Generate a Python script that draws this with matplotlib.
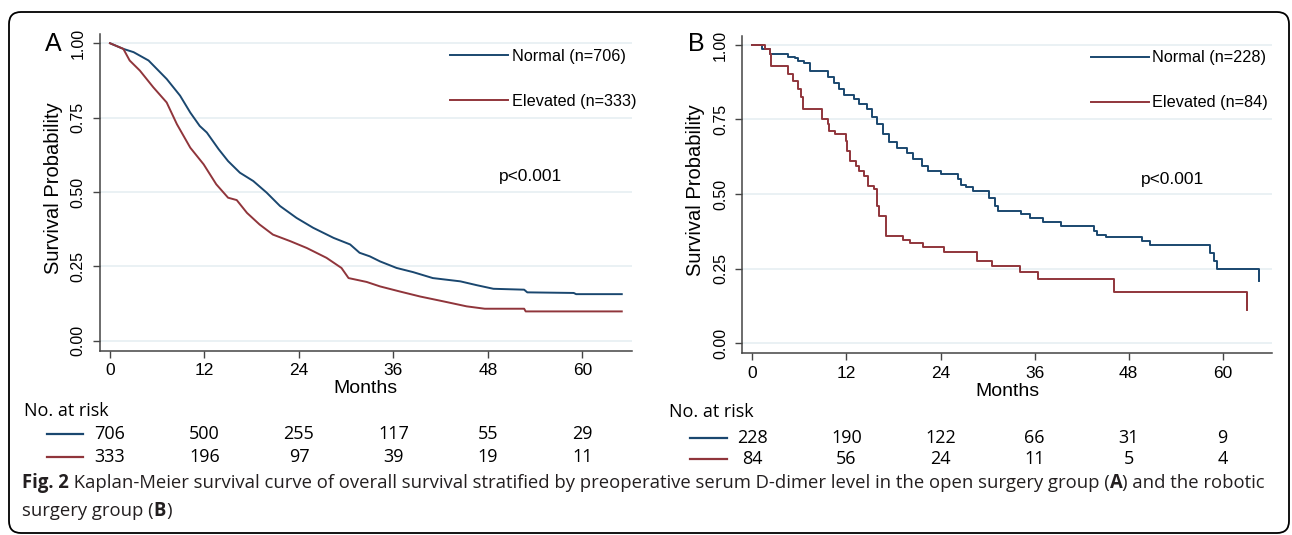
import matplotlib
import matplotlib.pyplot as plt
from matplotlib.patches import FancyBboxPatch
from matplotlib.lines import Line2D
from matplotlib.transforms import blended_transform_factory

matplotlib.use("Agg")

# ---- data ----
months_ticks = [0, 12, 24, 36, 48, 60]

# panel A (open surgery) - dense KM curves, read as points
a_norm_t = [0, 1.7, 3.0, 4.9, 7.2, 8.9, 10.2, 11.4, 12.3, 13.8, 15.0, 16.5, 18.2, 19.9,
            21.6, 23.7, 25.8, 28.4, 30.5, 31.7, 33.0, 34.3, 36.4, 38.5, 41.0, 44.5,
            46.6, 48.7, 52.6, 53.0, 58.9, 59.2, 65.0]
a_norm_s = [1.0, 0.981, 0.970, 0.942, 0.880, 0.824, 0.767, 0.722, 0.700, 0.644, 0.604,
            0.565, 0.537, 0.498, 0.453, 0.413, 0.380, 0.346, 0.324, 0.296, 0.284, 0.267,
            0.245, 0.231, 0.211, 0.200, 0.187, 0.175, 0.172, 0.163, 0.161, 0.157, 0.157]
a_elev_t = [0, 1.7, 2.5, 3.8, 5.5, 7.2, 8.5, 10.2, 11.9, 13.5, 15.0, 16.1, 17.4, 19.0,
            20.7, 22.9, 25.0, 27.5, 29.4, 30.3, 32.6, 34.3, 36.8, 39.4, 42.3, 45.3,
            47.6, 52.6, 52.8, 65.0]
a_elev_s = [1.0, 0.981, 0.942, 0.908, 0.852, 0.801, 0.728, 0.649, 0.593, 0.526, 0.481,
            0.473, 0.430, 0.391, 0.357, 0.335, 0.312, 0.279, 0.245, 0.211, 0.198, 0.183,
            0.166, 0.149, 0.133, 0.116, 0.108, 0.108, 0.099, 0.099]

# panel B (robotic surgery) - step curves (event time, survival after)
b_norm_t = [0, 1.2, 2.2, 4.5, 5.4, 5.8, 6.6, 7.3, 9.6, 10.4, 11.1, 11.7, 12.9, 13.6,
            14.6, 15.3, 15.9, 16.7, 17.4, 18.4, 19.7, 20.5, 21.6, 22.4, 24.0, 26.2,
            26.6, 27.2, 28.1, 30.2, 31.0, 31.4, 34.3, 35.4, 37.1, 39.4, 43.6, 44.0,
            45.1, 49.7, 50.7, 58.4, 58.9, 59.3, 64.6]
b_norm_s = [1.0, 0.987, 0.970, 0.961, 0.955, 0.947, 0.938, 0.914, 0.891, 0.871, 0.852,
            0.832, 0.818, 0.802, 0.785, 0.757, 0.734, 0.701, 0.673, 0.656, 0.639, 0.617,
            0.594, 0.577, 0.566, 0.550, 0.530, 0.524, 0.510, 0.488, 0.460, 0.443, 0.432,
            0.420, 0.407, 0.392, 0.376, 0.364, 0.357, 0.342, 0.328, 0.303, 0.277, 0.250,
            0.207]
b_elev_t = [0, 1.6, 2.2, 2.4, 4.5, 5.2, 5.8, 6.2, 6.4, 8.9, 9.6, 9.8, 10.6, 11.9, 12.1,
            12.5, 13.2, 13.6, 14.2, 14.8, 15.5, 15.9, 16.1, 17.1, 19.2, 20.1, 21.8,
            24.5, 28.7, 30.6, 34.1, 36.4, 46.2, 63.1]
b_elev_s = [1.0, 0.987, 0.970, 0.928, 0.902, 0.880, 0.852, 0.824, 0.785, 0.751, 0.734,
            0.712, 0.703, 0.678, 0.645, 0.611, 0.594, 0.577, 0.561, 0.527, 0.516, 0.460,
            0.426, 0.359, 0.347, 0.336, 0.322, 0.306, 0.275, 0.258, 0.238, 0.215, 0.172,
            0.112]

labels_a = ["Normal (n=706)", "Elevated (n=333)"]
labels_b = ["Normal (n=228)", "Elevated (n=84)"]
risk_a = [[706, 500, 255, 117, 55, 29], [333, 196, 97, 39, 19, 11]]
risk_b = [[228, 190, 122, 66, 31, 9], [84, 56, 24, 11, 5, 4]]

caption_1 = [("Fig. 2", True), (" Kaplan-Meier survival curve of overall survival stratified by "
             "preoperative serum D-dimer level in the open surgery group (", False),
             ("A", True), (") and the robotic", False)]
caption_2 = [("surgery group (", False), ("B", True), (")", False)]

BLUE = "#1a476f"
RED = "#90353b"
GRID = "#e6eff2"
W, H = 1292, 535

plt.rcParams['font.family'] = ['Liberation Sans', 'DejaVu Sans']
fig = plt.figure(figsize=(W / 100, H / 100), dpi=100)


def px(x0, y_top, x1, y_bot):
    """ pixel box -> figure fraction rect """
    return [x0 / W, 1 - y_bot / H, (x1 - x0) / W, (y_bot - y_top) / H]


def style_axes(ax):
    for s in ["top", "right"]:
        ax.spines[s].set_visible(False)
    for s in ["left", "bottom"]:
        ax.spines[s].set_color("#444444")
        ax.spines[s].set_linewidth(1.1)
    ax.set_xlim(-1.33, 66.3)
    ax.set_ylim(-0.033, 1.03)
    ax.set_xticks(months_ticks)
    ax.set_yticks([0, 0.25, 0.5, 0.75, 1.0])
    ax.set_yticklabels(["0.00", "0.25", "0.50", "0.75", "1.00"], rotation=90, va="center")
    ax.tick_params(axis="x", length=5, width=1, color="#444444", labelsize=12.5, pad=4)
    ax.tick_params(axis="y", length=5, width=1, color="#444444", labelsize=11.5, pad=5)
    ax.grid(axis="y", color=GRID, lw=1.2)
    ax.set_axisbelow(True)
    ax.set_xlabel("Months", fontsize=14)
    ax.xaxis.set_label_coords(0.5, -0.12)
    ax.xaxis.label.set_va("center")
    ax.set_ylabel("Survival Probability", fontsize=14.5)
    ax.yaxis.set_label_coords(-0.087, 0.514)
    ax.yaxis.label.set_va("center")


axA = fig.add_axes(px(99.5, 34.3, 632, 350.7))
axB = fig.add_axes(px(742, 36, 1272, 353))
for ax in (axA, axB):
    style_axes(ax)

axA.plot(a_norm_t, a_norm_s, color=BLUE, lw=1.4, label=labels_a[0])
axA.plot(a_elev_t, a_elev_s, color=RED, lw=1.4, label=labels_a[1])
axB.plot(b_norm_t, b_norm_s, color=BLUE, lw=1.4, drawstyle="steps-post", label=labels_b[0])
axB.plot(b_elev_t, b_elev_s, color=RED, lw=1.4, drawstyle="steps-post", label=labels_b[1])
axB.vlines([b_norm_t[-1], b_elev_t[-1]], [b_norm_s[-1], b_elev_s[-1]],
           [b_norm_s[-2], b_elev_s[-2]], colors=[BLUE, RED], lw=1.4)

for ax in (axA, axB):
    ax.legend(loc="upper left", bbox_to_anchor=(0.658, 0.955), frameon=False,
              fontsize=11.7, handlelength=3.6, handletextpad=0.2, labelspacing=1.85,
              borderpad=0, borderaxespad=0)
axA.text(0.81, 0.549, "p<0.001", transform=axA.transAxes, fontsize=12.5,
         ha="center", va="center")
axB.text(0.813, 0.546, "p<0.001", transform=axB.transAxes, fontsize=12.5,
         ha="center", va="center")

fig.text(53 / W, 1 - 44 / H, "A", fontsize=18, ha="center", va="center")
fig.text(696 / W, 1 - 44 / H, "B", fontsize=18, ha="center", va="center")

# ---- numbers at risk ----
TABLE_FONT = ['Open Sans', 'DejaVu Sans']
for ax, risk, x_head, y_head, rows_y, key_x in (
        (axA, risk_a, 24, 411, (434, 457), (47, 83)),
        (axB, risk_b, 669, 412, (438, 459), (690, 727))):
    fig.text(x_head / W, 1 - y_head / H, "No. at risk", fontsize=13,
             family=TABLE_FONT, va="center")
    trans = blended_transform_factory(ax.transData, fig.transFigure)
    for row, y, c in zip(risk, rows_y, (BLUE, RED)):
        fig.add_artist(Line2D([key_x[0] / W, key_x[1] / W], [1 - y / H, 1 - y / H],
                              color=c, lw=1.6, transform=fig.transFigure))
        for m, n in zip(months_ticks, row):
            ax.text(m, 1 - y / H, str(n), transform=trans, fontsize=13,
                    family=TABLE_FONT, ha="center", va="center")

# ---- caption with bold pieces ----
fig.canvas.draw()
renderer = fig.canvas.get_renderer()
for parts, y in ((caption_1, 483), (caption_2, 511)):
    x = 22
    for txt, bold in parts:
        t = fig.text(x / W, 1 - y / H, txt, fontsize=13.35, family=TABLE_FONT,
                     weight="bold" if bold else "normal", va="center", color="#231f20")
        x += t.get_window_extent(renderer).width

# rounded outer frame
fig.add_artist(FancyBboxPatch((9, 2), 1280, 521, boxstyle="round,pad=0,rounding_size=12",
                              transform=None, fill=False, ec="black", lw=1.3))

fig.savefig("out.png", dpi=100)
